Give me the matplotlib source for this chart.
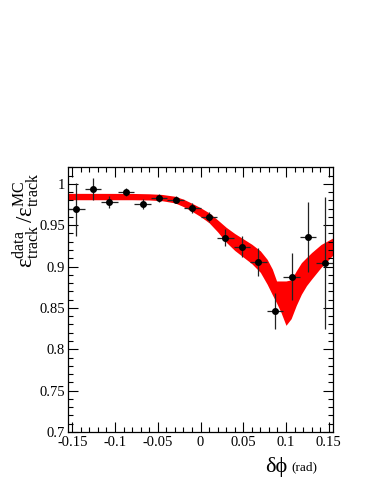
import matplotlib
matplotlib.use('Agg')
import matplotlib.pyplot as plt
from matplotlib.ticker import MultipleLocator, FixedLocator

plt.rcParams['font.family'] = ['Liberation Serif', 'DejaVu Serif']
plt.rcParams['mathtext.fontset'] = 'stix'
plt.rcParams['mathtext.default'] = 'regular'

# data points (16 bins over -0.155..0.155)
x_pts = [-0.1453, -0.1259, -0.1066, -0.0872, -0.0678, -0.0484, -0.0291, -0.0097,
         0.0097, 0.0291, 0.0484, 0.0678, 0.0872, 0.1066, 0.1259, 0.1453]
y_pts = [0.969, 0.994, 0.978, 0.990, 0.976, 0.983, 0.981, 0.971,
         0.960, 0.935, 0.924, 0.906, 0.846, 0.888, 0.936, 0.904]
y_err = [0.032, 0.013, 0.007, 0.005, 0.006, 0.005, 0.004, 0.006,
         0.006, 0.010, 0.013, 0.017, 0.022, 0.028, 0.042, 0.080]
x_err = 0.0097

# fit band (upper / lower edge)
x_band = [-0.155, -0.12, -0.08, -0.06, -0.045, -0.03, -0.02, -0.01, 0.0, 0.01, 0.02,
          0.03, 0.04, 0.05, 0.06, 0.07, 0.078, 0.084, 0.089, 0.094, 0.100, 0.106,
          0.112, 0.118, 0.124, 0.130, 0.141, 0.155]
band_hi = [0.9885, 0.9885, 0.9884, 0.9880, 0.9872, 0.9850, 0.9815, 0.9765, 0.9712,
           0.9650, 0.9565, 0.9475, 0.9400, 0.9335, 0.9270, 0.9190, 0.9087, 0.8970,
           0.8826, 0.8826, 0.8826, 0.8840, 0.8948, 0.9047, 0.9110, 0.9170, 0.9267, 0.9347]
band_lo = [0.9808, 0.9808, 0.9808, 0.9805, 0.9796, 0.9770, 0.9725, 0.9668, 0.9605,
           0.9530, 0.9420, 0.9295, 0.9195, 0.9115, 0.9035, 0.8930, 0.8786, 0.8660,
           0.8560, 0.8450, 0.8290, 0.8370, 0.8530, 0.8666, 0.8770, 0.8850, 0.8990, 0.9140]

fig = plt.figure(figsize=(3.74, 4.84), dpi=100)
ax = fig.add_axes([0.1818, 0.1074, 0.7086, 0.5476])

ax.fill_between(x_band, band_lo, band_hi, color='red', lw=0)
ax.errorbar(x_pts, y_pts, xerr=x_err, yerr=y_err, fmt='o', color='black',
            ms=4, elinewidth=0.9, ecolor='#222222', capsize=0)

ax.set_xlim(-0.155, 0.155)
ax.set_ylim(0.7, 1.0204)

ax.xaxis.set_major_locator(FixedLocator([-0.15, -0.1, -0.05, 0, 0.05, 0.1, 0.15]))
ax.xaxis.set_minor_locator(MultipleLocator(0.01))
ax.yaxis.set_major_locator(FixedLocator([0.7, 0.75, 0.8, 0.85, 0.9, 0.95, 1.0]))
ax.yaxis.set_minor_locator(MultipleLocator(0.01))
ax.set_xticklabels(['-0.15', '-0.1', '-0.05', '0', '0.05', '0.1', '0.15'])
ax.set_yticklabels(['0.7', '0.75', '0.8', '0.85', '0.9', '0.95', '1'])
ax.tick_params(which='both', direction='in', top=True, right=True, labelsize=10.5, width=0.8)
ax.tick_params(which='major', length=7)
ax.tick_params(which='minor', length=3.5)
ax.tick_params(axis='x', pad=3)
ax.tick_params(axis='y', pad=2)
for s in ax.spines.values():
    s.set_linewidth(0.9)

fig.text(0.068, 0.545, r'$\varepsilon^{data}_{track}\,/\varepsilon^{MC}_{track}$',
         rotation=90, ha='center', va='center', fontsize=16.5)
fig.text(0.768, 0.036, 'δϕ', ha='right', va='center', fontsize=16)
fig.text(0.78, 0.034, '(rad)', ha='left', va='center', fontsize=9.5)

fig.savefig('out.png', dpi=100)
